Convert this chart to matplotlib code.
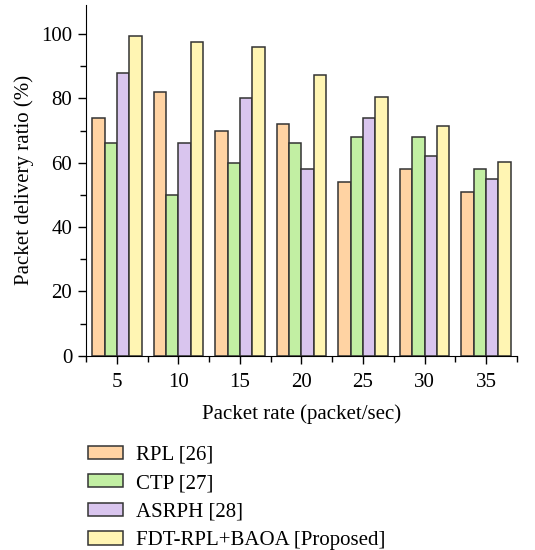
import numpy as np
import matplotlib
matplotlib.use("Agg")
import matplotlib.pyplot as plt
from matplotlib.ticker import MultipleLocator, FixedLocator

plt.rcParams['font.family'] = ['Liberation Serif', 'DejaVu Serif']

rates = [5, 10, 15, 20, 25, 30, 35]
rpl = [74, 82, 70, 72, 54, 58, 51]
ctp = [66, 50, 60, 66, 68, 68, 58]
asrph = [88, 66, 80, 58, 74, 62, 55]
proposed = [99.3, 97.4, 95.9, 87.2, 80.5, 71.4, 60.1]

labels = ['RPL [26]', 'CTP [27]', 'ASRPH [28]', 'FDT-RPL+BAOA [Proposed]']
colors = ['#FFD3A3', '#C2EFA3', '#D9C5EE', '#FFF5B3']

fig = plt.figure(figsize=(5.35, 5.5), dpi=100)
ax = fig.add_axes([0.161, 0.353, 0.805, 0.638])

x = np.array(rates, dtype=float)
w = 1.0
for i, (vals, c, lab) in enumerate(zip([rpl, ctp, asrph, proposed], colors, labels)):
    ax.bar(x + (i - 1.5) * w, vals, width=w, color=c, edgecolor='#333333',
           linewidth=1.1, label=lab)

ax.set_xlim(2.5, 37.5)
ax.set_ylim(0, 109)
ax.set_xticks(rates)
ax.xaxis.set_minor_locator(FixedLocator(np.arange(2.5, 38, 5)))
ax.yaxis.set_major_locator(MultipleLocator(20))
ax.yaxis.set_minor_locator(MultipleLocator(10))
ax.spines['top'].set_visible(False)
ax.spines['right'].set_visible(False)
ax.tick_params(which='both', direction='out', labelsize=15, width=1)
ax.tick_params(which='major', length=6, pad=4)
ax.tick_params(axis='x', which='major', pad=6)
ax.tick_params(which='minor', length=4)
ax.set_xlabel('Packet rate (packet/sec)', fontsize=15, labelpad=9)
ax.set_ylabel('Packet delivery ratio (%)', fontsize=15, labelpad=5)

handles, labs = ax.get_legend_handles_labels()
fig.legend(handles, labs, loc='upper left', bbox_to_anchor=(0.148, 0.205),
           frameon=False, fontsize=15, handlelength=1.7, handleheight=0.6,
           labelspacing=0.46, handletextpad=0.65, borderaxespad=0)

fig.savefig('out.png', dpi=100)
